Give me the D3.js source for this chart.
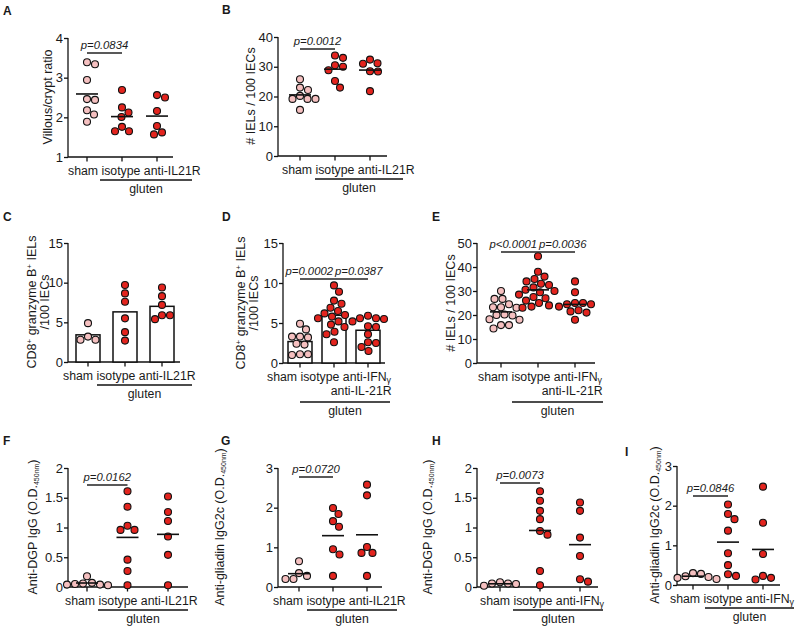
<!DOCTYPE html>
<html><head><meta charset="utf-8">
<script src="https://cdn.jsdelivr.net/npm/d3@7"></script>
<style>
body{margin:0;background:#fff;}
svg text{font-family:"Liberation Sans",Arial,Helvetica,sans-serif;fill:#1a1a1a;}
</style></head><body>
<svg id="c" width="800" height="630"></svg>
<script>
// ---------- categories & tick labels ----------
const catIL21R = ["sham","isotype","anti-IL21R"];
const catIFN = ["sham","isotype","anti-IFNγ"];
const catIFNIL21R = ["sham","isotype","anti-IFNγ\nanti-IL-21R"];
const groupLabel = "gluten";

const ticksA = [1,2,3,4];
const ticksB = [0,10,20,30,40];
const ticksCD = [0,5,10,15];
const ticksE = [0,10,20,30,40,50];
const ticksFH = [0,0.5,1,1.5,2];
const ticksGI = [0,1,2,3];

// ---------- values ----------
// A: villous/crypt ratio
const aSham = [3.34,3.39,2.94,2.44,2.46,2.18,2.07,1.89];
const aIso  = [2.69,2.25,2.12,2.01,1.76,1.65,1.65];
const aAnti = [2.56,2.50,2.16,1.78,1.57,1.62];
// B: # IELs / 100 IECs
const bSham = [25.8,23.0,22.2,20.2,19.2,19.2,19.2,15.5];
const bIso  = [33.8,33.0,30.5,30.0,28.8,25.2,23.0];
const bAnti = [32.4,31.0,31.2,28.5,28.4,21.8];
// C: CD8+ granzyme B+ IELs / 100 IECs
const cSham = [3.2,4.9,2.8,2.8];
const cIso  = [9.7,8.65,7.6,5.5,3.76,2.7];
const cAnti = [9.4,8.3,7.2,5.9,5.9,5.4];
// D
const dSham = [4.9,4.2,3.3,3.3,3.2,2.4,2.3,1.1,1.0,1.1];
const dIso  = [9.7,8.9,7.8,7.4,6.9,6.5,6.2,6.0,5.8,5.6,5.2,4.8,4.5,3.9,3.6,2.6];
const dAnti = [5.9,5.6,5.6,5.5,5.2,4.6,4.5,3.6,2.6,2.5,2.0,1.5];
// E
const eSham = [30,26.7,26.7,24.5,23.2,23.0,23.2,20.0,20.2,19.8,18.2,18.0,15.8,15.8,14.4];
const eIso  = [44.5,38,36,35,34,33,32.5,31.5,30.5,30,29.5,28.5,27.5,27,26,25,24,23.5,23];
const eAnti = [34,29.5,25,25,24.5,24.5,23.5,22,21.5,21,18];
// F: anti-DGP IgG
const fSham = [0.18,0.07,0.05,0.04,0.04,0.03,0.06];
const fIso  = [1.61,1.35,0.96,0.96,1.03,0.46,0.27,0.03];
const fAnti = [1.52,1.26,1.11,0.85,0.54,0.03];
// G: anti-gliadin IgG2c
const gSham = [0.65,0.35,0.28,0.2,0.2];
const gIso  = [1.99,1.84,1.66,1.52,0.95,0.82,0.28];
const gAnti = [2.58,2.31,0.86,0.86,1.01,0.28];
// H: anti-DGP IgG
const hSham = [0.08,0.05,0.06,0.02,0.06];
const hIso  = [1.61,1.45,1.28,1.14,0.88,0.94,0.27,0.03];
const hAnti = [1.42,1.28,0.83,0.52,0.09,0.13];
// I: anti-gliadin IgG2c
const iSham = [0.3,0.28,0.22,0.2,0.18,0.15];
const iIso  = [2.03,1.66,1.79,1.37,0.80,0.50,0.23,0.27];
const iAnti = [2.48,1.57,0.78,0.23,0.14,0.18];

// y-axis titles
const tVillous = [[{t:"Villous/crypt ratio"}]];
const tIEL = [[{t:"# IELs / 100 IECs"}]];
const tCD8 = [[{t:"CD8"},{t:"+",s:"sup"},{t:" granzyme B"},{t:"+",s:"sup"},{t:" IELs"}],[{t:"/100 IECs"}]];
const tDGP = [[{t:"Anti-DGP IgG (O.D."},{t:"450nm",s:"sub"},{t:")"}]];
const tGli = [[{t:"Anti-gliadin IgG2c (O.D."},{t:"450nm",s:"sub"},{t:")"}]];

// ---------- layout ----------
const SHAM_FILL = "#f5c0c0", RED_FILL = "#e3241e";
const panels = [
 {lab:"A",lx:3,ly:15,type:"dot",series:[aSham,aIso,aAnti],cats:catIL21R,x0:68,x1:173,c:[87,157],yb:157,yt:38,dom:[1,4],ticks:ticksA,
  title:tVillous,tx:[52],yc:97,ls:68,glu:[100,192],p:[{t:"p=0.0834",a:0,b:1,y:53}]},
 {lab:"B",lx:222,ly:14,type:"dot",series:[bSham,bIso,bAnti],cats:catIL21R,x0:278,x1:387,c:[300,370],yb:156,yt:37,dom:[0,40],ticks:ticksB,
  title:tIEL,tx:[255],yc:96,ls:282,glu:[315,403],p:[{t:"p=0.0012",a:0,b:1,y:49}]},
 {lab:"C",lx:3,ly:221,type:"bar",series:[cSham,cIso,cAnti],cats:catIL21R,x0:68,x1:180,c:[88,162],yb:362,yt:243,dom:[0,15],ticks:ticksCD,
  title:tCD8,tx:[36,49],yc:302,ls:63,glu:[97,192],p:[]},
 {lab:"D",lx:222,ly:221,type:"bar",series:[dSham,dIso,dAnti],cats:catIFNIL21R,x0:283,x1:385,c:[300,368],yb:363,yt:243,dom:[0,15],ticks:ticksCD,
  title:tCD8,tx:[245,258],yc:303,ls:267,glu:[300,390],p:[{t:"p=0.0002",a:0,b:1,y:279},{t:"p=0.0387",a:1,b:2,y:279}]},
 {lab:"E",lx:432,ly:221,type:"dot",series:[eSham,eIso,eAnti],cats:catIFNIL21R,x0:477,x1:595,c:[501,575],yb:363,yt:243,dom:[0,50],ticks:ticksE,
  title:tIEL,tx:[455],yc:303,ls:478,glu:[512,603],p:[{t:"p<0.0001",a:0,b:1,y:252},{t:"p=0.0036",a:1,b:2,y:252}]},
 {lab:"F",lx:3,ly:445,type:"dot",series:[fSham,fIso,fAnti],cats:catIL21R,x0:68,x1:188,c:[87,168],yb:587,yt:468,dom:[0,2],ticks:ticksFH,
  title:tDGP,tx:[37],yc:527,ls:65,glu:[98,188],p:[{t:"p=0.0162",a:0,b:1,y:485}]},
 {lab:"G",lx:221,ly:445,type:"dot",series:[gSham,gIso,gAnti],cats:catIL21R,x0:278,x1:382,c:[299,367],yb:587,yt:468,dom:[0,3],ticks:ticksGI,
  title:tGli,tx:[224],yc:527,ls:273,glu:[307,397],p:[{t:"p=0.0720",a:0,b:1,y:477}]},
 {lab:"H",lx:432,ly:445,type:"dot",series:[hSham,hIso,hAnti],cats:catIFN,x0:477,x1:598,c:[500,580],yb:587,yt:468,dom:[0,2],ticks:ticksFH,
  title:tDGP,tx:[432],yc:527,ls:480,glu:[513,603],p:[{t:"p=0.0073",a:0,b:1,y:483}]},
 {lab:"I",lx:625,ly:456,type:"dot",series:[iSham,iIso,iAnti],cats:catIFN,x0:677,x1:780,c:[693,763],yb:585,yt:466,dom:[0,3],ticks:ticksGI,
  title:tGli,tx:[659],yc:525,ls:670,glu:[705,794],p:[{t:"p=0.0846",a:0,b:1,y:496}]}
];

const svg = d3.select("#c");
const R = 3.5;

function addParts(textEl, parts){
  let shift = 0;
  parts.forEach(p=>{
    const target = p.s==="sup" ? -4.5 : p.s==="sub" ? 2.2 : 0;
    const ts = textEl.append("tspan").text(p.t).attr("dy", target-shift);
    if(p.s) ts.attr("font-size", p.s==="sup" ? 8 : 7);
    shift = target;
  });
  if(shift!==0) textEl.append("tspan").text("").attr("dy",-shift);
}
function addGreek(textEl, str){
  const pieces = str.split("γ");
  pieces.forEach((s,i)=>{
    if(s) textEl.append("tspan").text(s);
    if(i<pieces.length-1){
      textEl.append("tspan").text("γ").attr("font-size",9).attr("dy",1.5);
      textEl.append("tspan").text("").attr("dy",-1.5);
    }
  });
}

// simple beeswarm: returns x offsets
function swarm(ys, r){
  const order = ys.map((y,i)=>i).sort((a,b)=>ys[a]-ys[b]);
  const placed = [], out = new Array(ys.length);
  const d = 2*r+1;
  order.forEach(i=>{
    const y = ys[i];
    let dx = 0;
    for(let k=0;k<400;k++){
      const cand = (k%2===1?1:-1)*Math.ceil(k/2)*0.5;
      if(placed.every(p=>Math.hypot(p.x-cand,p.y-y)>=d)){ dx=cand; break; }
    }
    placed.push({x:dx,y:y});
    out[i]=dx;
  });
  return out;
}

panels.forEach(P=>{
  const g = svg.append("g");
  const x = d3.scalePoint().domain(P.cats).range(P.c);
  const y = d3.scaleLinear().domain(P.dom).range([P.yb,P.yt]);

  // panel letter
  g.append("text").attr("x",P.lx).attr("y",P.ly).attr("font-size",12).attr("font-weight","bold").text(P.lab);

  // y axis
  const ya = g.append("g").attr("transform",`translate(${P.x0},0)`)
    .call(d3.axisLeft(y).tickValues(P.ticks).tickSize(4).tickPadding(1).tickFormat(d=>String(d)));
  ya.select(".domain").attr("stroke","#111").attr("stroke-width",1.3).attr("d",`M0,${P.yb}V${P.yt}`);
  ya.selectAll(".tick line").attr("stroke","#111").attr("stroke-width",1.3);
  ya.selectAll(".tick text").attr("font-size",13).attr("fill","#1a1a1a")
    .attr("font-family",'"Liberation Sans",Arial,sans-serif');

  // x axis line + ticks
  g.append("line").attr("x1",P.x0).attr("x2",P.x1).attr("y1",P.yb).attr("y2",P.yb).attr("stroke","#111").attr("stroke-width",1.3);
  g.selectAll(".xt").data(P.cats).enter().append("line")
    .attr("x1",d=>x(d)).attr("x2",d=>x(d)).attr("y1",P.yb).attr("y2",P.yb+4.5)
    .attr("stroke","#111").attr("stroke-width",1.3);

  // y title
  P.title.forEach((parts,li)=>{
    const t = g.append("text").attr("transform",`translate(${P.tx[li]},${P.yc}) rotate(-90)`)
      .attr("text-anchor","middle").attr("font-size",12.5);
    addParts(t, parts);
  });

  // category labels
  const lines = P.cats.map(c=>c.split("\n"));
  const first = lines.map(l=>l[0]).join(" ");
  const tl = g.append("text").attr("x",P.ls).attr("y",P.yb+18).attr("font-size",12.3);
  addGreek(tl, first);
  const two = lines.some(l=>l.length>1);
  if(two){
    const right = tl.node().getBBox().x + tl.node().getBBox().width;
    const second = lines.map(l=>l[1]).filter(Boolean).join(" ");
    g.append("text").attr("x",right).attr("y",P.yb+32).attr("text-anchor","end").attr("font-size",12.3).text(second);
  }
  // group label
  const gy = P.yb + (two?39:23);
  g.append("line").attr("x1",P.glu[0]).attr("x2",P.glu[1]).attr("y1",gy).attr("y2",gy).attr("stroke","#111").attr("stroke-width",1.3);
  g.append("text").attr("x",(P.glu[0]+P.glu[1])/2).attr("y",gy+12.5).attr("text-anchor","middle").attr("font-size",12.3).text(groupLabel);

  // bars
  if(P.type==="bar"){
    g.selectAll(".bar").data(P.series).enter().append("rect")
      .attr("x",(s,i)=>x(P.cats[i])-12).attr("width",24)
      .attr("y",s=>y(d3.mean(s))).attr("height",s=>P.yb-y(d3.mean(s)))
      .attr("fill","#fff").attr("stroke","#111").attr("stroke-width",1.5);
  }

  // points
  P.series.forEach((s,i)=>{
    const cx = x(P.cats[i]);
    const ys = s.map(v=>y(v));
    const off = swarm(ys, R);
    g.selectAll(null).data(s).enter().append("circle")
      .attr("cx",(v,j)=>cx+off[j]).attr("cy",v=>y(v)).attr("r",R)
      .attr("fill", i===0?SHAM_FILL:RED_FILL).attr("stroke","#111").attr("stroke-width",1.1);
    if(P.type==="dot"){
      const m = d3.mean(s);
      g.append("line").attr("x1",cx-11).attr("x2",cx+11).attr("y1",y(m)).attr("y2",y(m))
        .attr("stroke","#111").attr("stroke-width",1.6);
    }
  });

  // p-value annotations
  P.p.forEach((a,k)=>{
    const xa = x(P.cats[a.a]), xb = x(P.cats[a.b]);
    g.append("line").attr("x1",xa).attr("x2",xb).attr("y1",a.y).attr("y2",a.y).attr("stroke","#222").attr("stroke-width",1.3);
    let tx = (xa+xb)/2, anchor="middle";
    if(P.p.length>1){ if(k===0){tx=xb-1;anchor="end";} else {tx=xa+1;anchor="start";} }
    g.append("text").attr("x",tx).attr("y",a.y-4).attr("text-anchor",anchor)
      .attr("font-size",11.3).attr("font-style","italic").attr("fill","#333").text(a.t);
  });
});
</script>
</body></html>
